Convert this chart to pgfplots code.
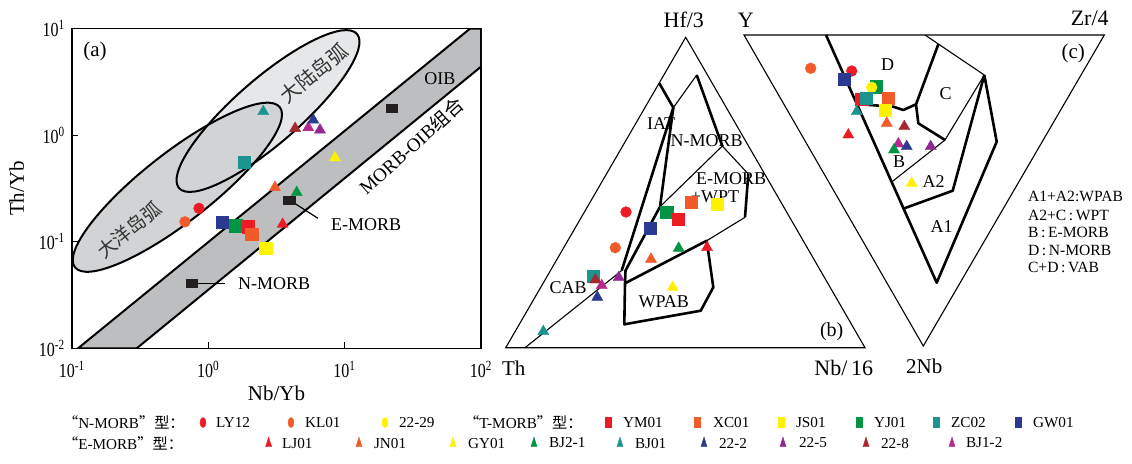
\documentclass[border=0pt]{standalone}
\usepackage{fontspec}
\setmainfont{Liberation Serif}
\newfontfamily\cjk{Noto Sans CJK SC}
\usepackage{graphicx}
\usepackage{pgfplots}
\pgfplotsset{compat=1.18}
\definecolor{cred}{HTML}{ED1C24}
\definecolor{corange}{HTML}{F15A29}
\definecolor{cyellow}{HTML}{FFF200}
\definecolor{cgreen}{HTML}{009444}
\definecolor{cteal}{HTML}{1B9490}
\definecolor{cblue}{HTML}{2B3990}
\definecolor{cpurple}{HTML}{92278F}
\definecolor{cbrown}{HTML}{A7282E}
\definecolor{cmagenta}{HTML}{B72A8F}
\definecolor{cblack}{HTML}{231F20}
\definecolor{bandc}{HTML}{BCBEC0}
\definecolor{ocean}{HTML}{D1D3D4}
\definecolor{cont}{HTML}{E6E7E8}
\pgfplotsset{
  C/.style={only marks, color=#1, mark=*, mark size=2.7pt, mark options={solid, fill=#1, draw=#1, line width=0.2pt}},
  S/.style={only marks, color=#1, mark=square*, mark size=3.1pt, mark options={solid, fill=#1, draw=#1, line width=0.2pt}},
  T/.style={only marks, color=#1, mark=triangle*, mark size=3.2pt, mark options={solid, fill=#1, draw=#1, line width=0.2pt}},
  K/.style={only marks, color=cblack, mark=square*, mark size=1.95pt, mark options={solid, fill=cblack, draw=cblack, line width=0.2pt, xscale=1.5}},
  LC/.style={only marks, color=#1, mark=*, mark size=2.5pt, mark options={solid, fill=#1, draw=#1, line width=0.2pt, xscale=0.6}},
  LS/.style={only marks, color=#1, mark=square*, mark size=2.5pt, mark options={solid, fill=#1, draw=#1, line width=0.2pt, xscale=0.6}},
  LT/.style={only marks, color=#1, mark=triangle*, mark size=3.2pt, mark options={solid, fill=#1, draw=#1, line width=0.2pt, xscale=0.55}},
  thinl/.style={draw=black, line width=0.55pt, mark=none},
  thickl/.style={draw=black, line width=1.3pt, mark=none, line join=round},
}
\newcommand\tl[1]{\scalebox{0.8}[1]{10\textsuperscript{#1}}}
\newcommand\lf{\fontsize{7.6}{8}\selectfont}
\begin{document}
\begin{tikzpicture}
\begin{axis}[name=ov, at={(0pt,0pt)}, anchor=south west, scale only axis,
  width=566pt, height=231.5pt, xmin=0, xmax=1132, ymin=0, ymax=463,
  y dir=reverse, hide axis, clip=false]
\path (axis cs:0,0) (axis cs:1132,463);
% ---------- panel (b)
\addplot[thinl] coordinates {(685.7,37.3) (505.7,347.7) (865,347.7)} -- cycle;
\addplot[thinl] coordinates {(525,347.7) (621.7,270.5)};
\addplot[thickl] coordinates {(659.3,83.3) (673.3,107.7) (621.7,270.5)};
\addplot[thickl] coordinates {(673.3,107.7) (660,206.7) (625.5,270.5) (625,283.3) (624.3,324.3) (700.7,310.7) (713.3,287.3) (706.7,240.7) (625,283.3)};
\addplot[thinl] coordinates {(673.3,107.7) (696.7,75)};
\addplot[thickl] coordinates {(696.7,75) (722.3,146)};
\addplot[thinl] coordinates {(660,206.7) (722.3,146) (748.3,174)};
\addplot[thickl] coordinates {(748.3,174) (745,217.3)};
\addplot[thinl] coordinates {(745,217.3) (706.7,240.7)};
\node[font=\fontsize{11}{11}\selectfont] at (axis cs:683.8,20) {Hf/3};
\node[font=\fontsize{10.5}{11}\selectfont] at (axis cs:513.8,368.3) {Th};
\node[font=\fontsize{11}{11}\selectfont] at (axis cs:843.7,368.3) {Nb/\,16};
\node[font=\fontsize{9}{9}\selectfont] at (axis cs:661,123.3) {IAT};
\node[font=\fontsize{9}{9}\selectfont] at (axis cs:706.7,141) {N-MORB};
\node[font=\fontsize{9}{9}\selectfont, anchor=west] at (axis cs:689,178.3) {E-MORB};
\node[font=\fontsize{9}{9}\selectfont] at (axis cs:715,196.7) {+WPT};
\node[font=\fontsize{9}{9}\selectfont] at (axis cs:568,287.3) {CAB};
\node[font=\fontsize{9}{9}\selectfont] at (axis cs:663.8,301.7) {WPAB};
\node[font=\fontsize{10}{10}\selectfont] at (axis cs:831.7,331.7) {(b)};
% markers (b)
\addplot[C=cred] coordinates {(626,212)};
\addplot[C=corange] coordinates {(615.3,247.7)};
\addplot[S=cteal] coordinates {(593.3,276)};
\addplot[S=cgreen] coordinates {(666.7,212.3)};
\addplot[S=cred] coordinates {(678.3,219.3)};
\addplot[S=corange] coordinates {(691.3,202)};
\addplot[S=cyellow] coordinates {(717.3,204)};
\addplot[S=cblue] coordinates {(650.3,228.3)};
\addplot[T=cred] coordinates {(707,247.5)};
\addplot[T=cgreen] coordinates {(678.7,248.2)};
\addplot[T=corange] coordinates {(651,259.2)};
\addplot[T=cyellow] coordinates {(672.7,287.2)};
\addplot[T=cbrown] coordinates {(595.3,279.8)};
\addplot[T=cmagenta] coordinates {(601.7,285.5)};
\addplot[T=cpurple] coordinates {(618.7,277.5)};
\addplot[T=cblue] coordinates {(597.3,297.2)};
\addplot[T=cteal] coordinates {(543.3,331.5)};
% ---------- panel (c)
\addplot[thinl] coordinates {(744,35) (1104.3,35) (923.3,346)} -- cycle;
\addplot[thickl] coordinates {(826,35) (936.7,282.7) (996.7,141.7) (984.3,75)};
\addplot[thickl] coordinates {(904.3,208.3) (952.7,190.7) (984.3,75)};
\addplot[thinl] coordinates {(892,181.7) (945,140) (984.3,75)};
\addplot[thinl] coordinates {(925,35) (984.3,75)};
\addplot[thickl] coordinates {(938.3,44.3) (916,104.3) (918.3,123.3) (945,140)};
\addplot[thickl] coordinates {(856.8,104) (893.3,106.7) (903.3,110) (916,104.3)};
\node[font=\fontsize{11}{11}\selectfont] at (axis cs:745.8,20) {Y};
\node[font=\fontsize{11}{11}\selectfont] at (axis cs:1089.7,18.3) {Zr/4};
\node[font=\fontsize{10.5}{11}\selectfont] at (axis cs:924.2,366.7) {2Nb};
\node[font=\fontsize{10.5}{11}\selectfont] at (axis cs:1073.3,53.3) {(c)};
\node[font=\fontsize{9}{9}\selectfont] at (axis cs:887.5,65) {D};
\node[font=\fontsize{9}{9}\selectfont] at (axis cs:945.5,93.3) {C};
\node[font=\fontsize{9}{9}\selectfont] at (axis cs:899,161.7) {B};
\node[font=\fontsize{9}{9}\selectfont] at (axis cs:933.7,181.7) {A2};
\node[font=\fontsize{9}{9}\selectfont] at (axis cs:941.7,226.7) {A1};
\node[font=\fontsize{7.8}{8}\selectfont, anchor=west] at (axis cs:1021,196.7) {A1+A2:WPAB};
\node[font=\fontsize{7.8}{8}\selectfont, anchor=west] at (axis cs:1021,215) {A2+C\,:\,WPT};
\node[font=\fontsize{7.8}{8}\selectfont, anchor=west] at (axis cs:1021,232.3) {B\,:\,E-MORB};
\node[font=\fontsize{7.8}{8}\selectfont, anchor=west] at (axis cs:1021,250) {D\,:\,N-MORB};
\node[font=\fontsize{7.8}{8}\selectfont, anchor=west] at (axis cs:1021,267.3) {C+D\,:\,VAB};
% markers (c)
\addplot[C=corange] coordinates {(810.7,68.3)};
\addplot[C=cred] coordinates {(851.7,71)};
\addplot[S=cblue] coordinates {(844.3,79)};
\addplot[S=cgreen] coordinates {(876,86.7)};
\addplot[C=cyellow] coordinates {(871.7,87.3)};
\addplot[S=cred] coordinates {(861.7,99)};
\addplot[S=cteal] coordinates {(866,98.3)};
\addplot[S=corange] coordinates {(888.3,98.3)};
\addplot[S=cyellow] coordinates {(885.3,110)};
\addplot[T=cteal] coordinates {(856.7,111.5)};
\addplot[T=corange] coordinates {(886.7,123.2)};
\addplot[T=cbrown] coordinates {(904.3,126.5)};
\addplot[T=cred] coordinates {(848.3,134.8)};
\addplot[T=cmagenta] coordinates {(898.3,143.8)};
\addplot[T=cblue] coordinates {(906.7,146.5)};
\addplot[T=cgreen] coordinates {(894,149.8)};
\addplot[T=cpurple] coordinates {(930.7,146.5)};
\addplot[T=cyellow] coordinates {(911.7,183.2)};
% ---------- legend
\node[font=\lf, anchor=west] at (axis cs:56,422.5) {{\cjk “}N-MORB{\cjk ”型：}};
\addplot[LC=cred] coordinates {(203,422.5)};
\node[font=\lf, anchor=west] at (axis cs:209,422.5) {LY12};
\addplot[LC=corange] coordinates {(291,422.5)};
\node[font=\lf, anchor=west] at (axis cs:298,422.5) {KL01};
\addplot[LC=cyellow] coordinates {(385,422.5)};
\node[font=\lf, anchor=west] at (axis cs:392,422.5) {22-29};
\node[font=\lf, anchor=west] at (axis cs:457,422.5) {{\cjk “}T-MORB{\cjk ”型：}};
\addplot[LS=cred] coordinates {(608,422.5)};
\node[font=\lf, anchor=west] at (axis cs:616,422.5) {YM01};
\addplot[LS=corange] coordinates {(697,422.5)};
\node[font=\lf, anchor=west] at (axis cs:706,422.5) {XC01};
\addplot[LS=cyellow] coordinates {(781,422.5)};
\node[font=\lf, anchor=west] at (axis cs:789,422.5) {JS01};
\addplot[LS=cgreen] coordinates {(859,422.5)};
\node[font=\lf, anchor=west] at (axis cs:867,422.5) {YJ01};
\addplot[LS=cteal] coordinates {(936,422.5)};
\node[font=\lf, anchor=west] at (axis cs:944,422.5) {ZC02};
\addplot[LS=cblue] coordinates {(1018,422.5)};
\node[font=\lf, anchor=west] at (axis cs:1026,422.5) {GW01};
\node[font=\lf, anchor=west] at (axis cs:56,443) {{\cjk “}E-MORB{\cjk ”型：}};
\addplot[LT=cred] coordinates {(268.6,443.5)};
\node[font=\lf, anchor=west] at (axis cs:275,443) {LJ01};
\addplot[LT=corange] coordinates {(359,443.5)};
\node[font=\lf, anchor=west] at (axis cs:367,443) {JN01};
\addplot[LT=cyellow] coordinates {(453,443.5)};
\node[font=\lf, anchor=west] at (axis cs:461,443) {GY01};
\addplot[LT=cgreen] coordinates {(534,443.5)};
\node[font=\lf, anchor=west] at (axis cs:542,443) {BJ2-1};
\addplot[LT=cteal] coordinates {(620,443.5)};
\node[font=\lf, anchor=west] at (axis cs:628,443) {BJ01};
\addplot[LT=cblue] coordinates {(704,443.5)};
\node[font=\lf, anchor=west] at (axis cs:712,443) {22-2};
\addplot[LT=cpurple] coordinates {(783,443.5)};
\node[font=\lf, anchor=west] at (axis cs:792,443) {22-5};
\addplot[LT=cbrown] coordinates {(866,443.5)};
\node[font=\lf, anchor=west] at (axis cs:874,443) {22-8};
\addplot[LT=cmagenta] coordinates {(952,443.5)};
\node[font=\lf, anchor=west] at (axis cs:959,443) {BJ1-2};
\end{axis}
% ---------- panel (a)
\begin{axis}[at={(36pt,57.35pt)}, anchor=south west, scale only axis,
  width=204.5pt, height=159.8pt,
  xmode=log, ymode=log, xmin=0.1, xmax=100, ymin=0.01, ymax=10,
  xtick={0.1,1,10,100}, ytick={0.01,0.1,1,10},
  xticklabels={\tl{-1},\tl{0},\tl{1},\tl{2}},
  yticklabels={\tl{-2},\tl{-1},\tl{0},\tl{1}},
  xminorticks=false, yminorticks=false,
  tick align=inside, tick pos=left, major tick length=3pt,
  axis line style={line width=0.75pt},
  every tick/.style={black, line width=0.6pt},
  ticklabel style={font=\fontsize{10}{10}\selectfont},
  xticklabel style={yshift=-3pt},
  xlabel={Nb/Yb}, ylabel={Th/Yb},
  label style={font=\fontsize{10.5}{11}\selectfont},
  xlabel style={at={(axis description cs:0.5,-0.14)}, anchor=center},
  ylabel style={at={(axis description cs:-0.135,0.5)}, anchor=center},
  clip=true]
\fill[cont, rotate around={40.9:(axis cs:2.74,1.688)}] (axis cs:2.74,1.688) ellipse [x radius=58.85pt, y radius=16.25pt];
\fill[ocean, rotate around={38:(axis cs:0.593,0.325)}] (axis cs:0.593,0.325) ellipse [x radius=65pt, y radius=17.25pt];
\draw[black, line width=1pt, rotate around={40.9:(axis cs:2.74,1.688)}] (axis cs:2.74,1.688) ellipse [x radius=58.85pt, y radius=16.25pt];
\draw[black, line width=1pt, rotate around={38:(axis cs:0.593,0.325)}] (axis cs:0.593,0.325) ellipse [x radius=65pt, y radius=17.25pt];
\addplot[fill=bandc, draw=black, line width=1pt, mark=none] coordinates {(0.1107,0.01) (83,10) (100,10) (100,4.4) (0.2985,0.01)} -- cycle;
\addplot[black, line width=0.6pt, mark=none] coordinates {(3.93,0.247) (6.37,0.166)};
\addplot[black, line width=0.6pt, mark=none] coordinates {(0.84,0.0407) (1.32,0.0407)};
\addplot[K] coordinates {(22.1,1.79) (3.93,0.247) (0.755,0.0407)};
\addplot[C=cred] coordinates {(0.854,0.206)};
\addplot[C=corange] coordinates {(0.674,0.154)};
\addplot[S=cteal] coordinates {(1.84,0.557)};
\addplot[S=cblue] coordinates {(1.266,0.152)};
\addplot[S=cgreen] coordinates {(1.588,0.1416)};
\addplot[S=cred] coordinates {(1.963,0.1384)};
\addplot[S=corange] coordinates {(2.08,0.1175)};
\addplot[S=cyellow] coordinates {(2.63,0.0869)};
\addplot[T=cteal] coordinates {(2.53,1.67)};
\addplot[T=cbrown] coordinates {(4.33,1.16)};
\addplot[T=cmagenta] coordinates {(5.41,1.18)};
\addplot[T=cblue] coordinates {(5.89,1.39)};
\addplot[T=cpurple] coordinates {(6.59,1.12)};
\addplot[T=cyellow] coordinates {(8.49,0.616)};
\addplot[T=corange] coordinates {(3.08,0.324)};
\addplot[T=cgreen] coordinates {(4.45,0.290)};
\addplot[T=cred] coordinates {(3.51,0.146)};
\node[font=\fontsize{10.5}{11}\selectfont] at (axis cs:0.1475,6.08) {(a)};
\node[rotate=39.4, font=\cjk\fontsize{10}{10}\selectfont, text=black!80] at (axis cs:5.96,3.83) {大陆岛弧};
\node[rotate=39, font=\cjk\fontsize{9.5}{10}\selectfont, text=black!80] at (axis cs:0.262,0.129) {大洋岛弧};
\node[font=\fontsize{9}{9}\selectfont] at (axis cs:50,3.37) {OIB};
\node[rotate=42, font=\fontsize{9.5}{10}\selectfont] at (axis cs:30.7,0.792) {MORB-OIB{\cjk 组合}};
\node[font=\fontsize{9}{9}\selectfont, anchor=west] at (axis cs:7.05,0.1436) {E-MORB};
\node[font=\fontsize{9}{9}\selectfont, anchor=west] at (axis cs:1.466,0.0407) {N-MORB};
\end{axis}
\end{tikzpicture}
\end{document}
